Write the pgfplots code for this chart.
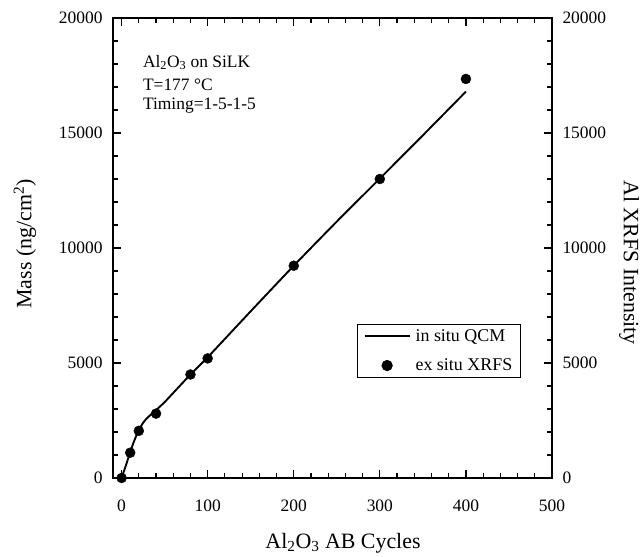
\documentclass[border=0pt]{standalone}
\usepackage{fontspec}
\setmainfont{Liberation Serif}
\usepackage{pgfplots}
\pgfplotsset{compat=1.18}
\pgfplotsset{
  linelegend/.style={legend image code/.code={\draw[##1] (0bp,0bp) -- (45bp,0bp);}},
  marklegend/.style={legend image code/.code={\draw[##1] plot coordinates {(22.5bp,0bp)};}},
  common/.style={
    scale only axis, width=439bp, height=460bp,
    xmin=-10, xmax=500, ymin=0, ymax=20000,
    /pgf/number format/assume math mode=true,
    /pgf/number format/1000 sep={},
    scaled y ticks=false,
    tick label style={font=\fontsize{17.5}{20}\selectfont},
    major tick length=8bp, minor tick length=5bp,
    axis line style={line width=1.6bp},
    tick style={black, line width=1.2bp},
    tick align=inside,
  }
}
\begin{document}
\begin{tikzpicture}
\begin{axis}[common, clip=false,
  xtick={0,100,...,500}, minor x tick num=4,
  ytick={0,5000,...,20000}, minor y tick num=4,
  xticklabel style={anchor=center, yshift=-28bp},
  yticklabel style={anchor=east, xshift=-7bp},
  legend style={at={(0.929,0.335)}, anchor=north east, draw=black, line width=1.2bp,
    font=\fontsize{18}{20}\selectfont, row sep=12bp, inner xsep=6bp, inner ysep=3bp,
    /tikz/every odd column/.append style={column sep=3bp}},
  legend cell align=left,
]
\addplot[black, line width=1.9bp, smooth, tension=0.4, linelegend]
  coordinates {(0,0) (5,550) (10,1130) (15,1650) (20,2080) (25,2400) (30,2620)
  (40,2950) (50,3300) (60,3700) (80,4500) (100,5250) (150,7250) (200,9230)
  (250,11150) (300,13020) (350,14900) (400,16800)};
\addlegendentry{in situ QCM}
\addplot[only marks, mark=*, mark size=5bp, black, marklegend]
  coordinates {(0,0) (10,1100) (20,2050) (40,2800) (80,4500) (100,5200)
  (200,9230) (300,13000) (400,17350)};
\addlegendentry{ex situ XRFS}
\node[anchor=north west, align=left, inner sep=0pt, font=\fontsize{17.5}{18.5}\selectfont]
  at (axis description cs:0.068,0.9196)
  {Al\textsubscript{2}O\textsubscript{3} on SiLK\\[5bp] T=177 °C\\ Timing=1-5-1-5};
\node[rotate=90, font=\fontsize{22}{24}\selectfont] at (axis description cs:-0.2005,0.509)
  {Mass (ng/cm\textsuperscript{2})};
\node[font=\fontsize{22}{24}\selectfont] at (axis description cs:0.524,-0.1413)
  {Al\textsubscript{2}O\textsubscript{3} AB Cycles};
\node[rotate=-90, font=\fontsize{22}{24}\selectfont] at (axis description cs:1.1754,0.468)
  {Al XRFS Intensity};
\end{axis}
\begin{axis}[common, axis x line=none, axis y line*=right,
  ytick={0,5000,...,20000}, minor y tick num=0, major tick length=0pt,
  yticklabel style={anchor=west, xshift=7bp},
]
\addplot[draw=none] coordinates {(0,0)};
\end{axis}
\path[use as bounding box] (-113bp,-74bp) rectangle (531bp,478bp);
\end{tikzpicture}
\end{document}
